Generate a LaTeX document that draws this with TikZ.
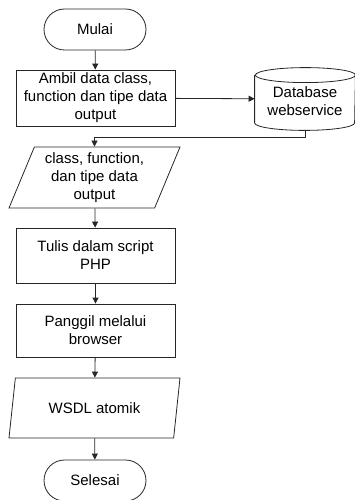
\documentclass[tikz,border=0pt]{standalone}
\usepackage{fontspec}
\setmainfont{Liberation Sans}
\usetikzlibrary{shapes.geometric,shapes.misc,arrows.meta}

\tikzset{
  base/.style={draw=black!85, line width=0.8pt, align=center, inner sep=1pt,
    font=\fontsize{15}{18}\selectfont},
  terminal/.style={base, rounded rectangle, minimum width=104pt, minimum height=41pt},
  process/.style={base, rectangle, minimum width=159pt, minimum height=55pt},
  io/.style={base, trapezium, trapezium left angle=64, trapezium right angle=116,
    trapezium stretches body=true, minimum width=171pt, minimum height=61pt},
  store/.style={base, draw=none, minimum width=100pt, minimum height=62pt},
  rim/.style={draw=black!85, line width=0.8pt},
  arr/.style={draw=black!85, line width=0.8pt, -{Triangle[length=6pt,width=6pt]}},
}

\begin{document}
\begin{tikzpicture}[x=1pt,y=-1pt]
    \useasboundingbox (0,0) rectangle (355,500);

    % flowchart nodes
    \node[terminal] (mulai) at (95,29.5) {Mulai};
    \node[process, minimum height=56pt] (ambil) at (95.5,98) {Ambil data class,\\function dan tipe data\\output};
    \node[store] (db) at (305,99) {};
    \draw[rim] ([yshift=-7.5pt]db.north west) -- ([yshift=7.5pt]db.south west)
        arc[start angle=180,end angle=360,x radius=50pt,y radius=7.5pt]
        -- ([yshift=-7.5pt]db.north east)
        arc[start angle=0,end angle=360,x radius=50pt,y radius=7.5pt];
    \node[font=\fontsize{15}{18}\selectfont, align=center] (dbtext) at (305,101) {Database\\webservice};
    \node[io] (hasil) at (94.5,177.5) {class, function,\\dan tipe data\\output};
    \node[process] (tulis) at (95.5,255.5) {Tulis dalam script\\PHP};
    \node[process, minimum height=53pt] (panggil) at (95.5,330.5) {Panggil melalui\\browser};
    \node[io, minimum height=60pt] (wsdl) at (94.5,408) {WSDL atomik};
    \node[terminal] (selesai) at (95,480.5) {Selesai};
    \coordinate (belok) at (305,137);

    % connectors
    \draw[arr] (mulai) -- (ambil);
    \draw[arr] (ambil) -- (db);
    \draw[arr] (db.south) -- (belok) -| (hasil.north);
    \draw[arr] (hasil) -- (tulis);
    \draw[arr] (tulis) -- (panggil);
    \draw[arr] (panggil) -- (wsdl);
    \draw[arr] (wsdl) -- (selesai);

\end{tikzpicture}
\end{document}
